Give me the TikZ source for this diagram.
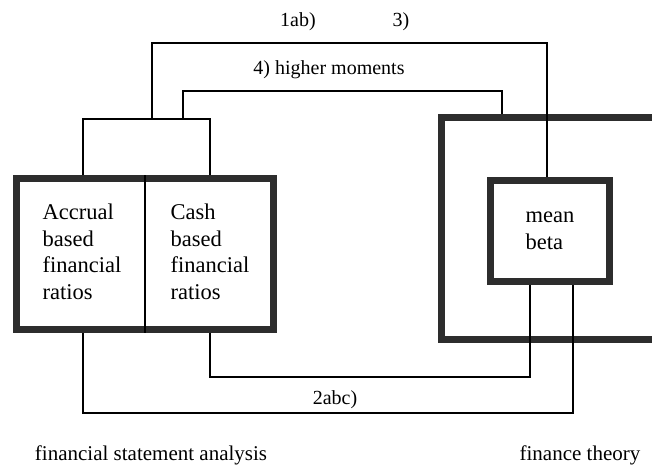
\documentclass[tikz,border=0pt]{standalone}
\usepackage{fontspec}
\setmainfont{Liberation Serif}
\usepackage{tikz}
\usetikzlibrary{positioning,calc}
\definecolor{borderdark}{RGB}{45,45,45}

\begin{document}
\begin{tikzpicture}[x=1pt,y=-1pt,
  every node/.style={font=\fontsize{20}{25.5}\selectfont,align=left},
  boxtext/.style={font=\fontsize{22.5}{26.5}\selectfont},
  heavybox/.style={draw=borderdark,line width=7pt,inner sep=0pt},
  wire/.style={line width=1.8pt}]
  \useasboundingbox (0,0) rectangle (652,473);

  % the two fields
  \node[heavybox,minimum width=257pt,minimum height=151pt] (ratios) at (145,254) {};
  \node[heavybox,minimum width=219pt,minimum height=222pt] (theory) at (551,228.5) {};
  \node[heavybox,boxtext,fill=white,minimum width=119pt,minimum height=101pt] (beta) at (550,231) {mean\\beta};
  \draw[line width=1.5pt] (ratios.north) -- (ratios.south);
  \node[boxtext] (accrual) at (82,252) {Accrual\\based\\financial\\ratios};
  \node[boxtext] (cash) at (210,252) {Cash\\based\\financial\\ratios};

  % bends of the connectors
  \coordinate (brL) at (83,119);
  \coordinate (brR) at (210,119);
  \coordinate (up1) at (152,119);
  \coordinate (up2) at (183,119);
  \coordinate (top1) at (547,43);
  \coordinate (top2) at (502,91);
  \coordinate (low1) at (83,413);
  \coordinate (low1r) at (573,413);
  \coordinate (low2) at (210,377);
  \coordinate (low2r) at (530,377);

  \draw[wire] (ratios.north -| brL) -- (brL) -- (brR) -- (ratios.north -| brR);
  \draw[wire] (up1) |- (top1) -- (top1 |- beta.north);
  \draw[wire] (up2) |- (top2) -- (top2 |- theory.north);
  \draw[wire] (ratios.south -| low1) -- (low1) -- (low1r) -- (low1r |- beta.south);
  \draw[wire] (ratios.south -| low2) -- (low2) -- (low2r) -- (low2r |- beta.south);

  % labels
  \node (lab1) at (298,22) {1ab)};
  \node (lab3) at (401,22) {3)};
  \node (lab4) at (329,70) {4) higher moments};
  \node (lab2) at (335,400) {2abc)};
  \node[font=\fontsize{21}{25.5}\selectfont] (fsa) at (151,455) {financial statement analysis};
  \node[font=\fontsize{21}{25.5}\selectfont] (ft) at (580,455) {finance theory};
\end{tikzpicture}
\end{document}
